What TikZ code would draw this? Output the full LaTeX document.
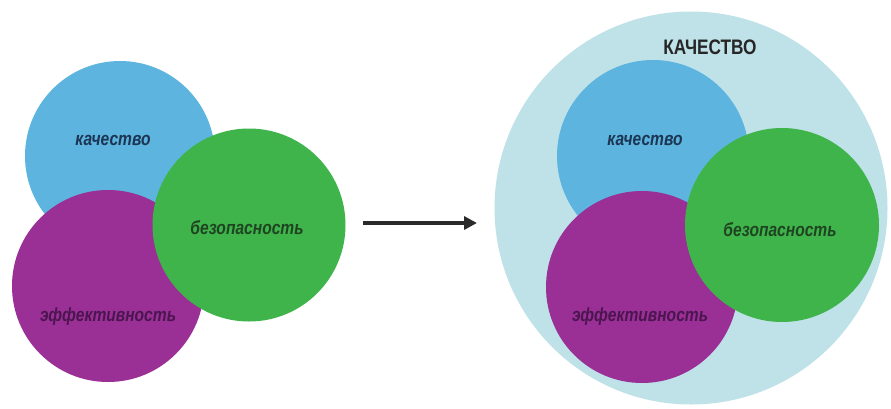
\documentclass[tikz,border=0pt]{standalone}
\usepackage{fontspec}
\setmainfont{Liberation Sans}
\newfontfamily\condfont[FakeStretch=0.82]{Liberation Sans}
\usetikzlibrary{arrows.meta}
\definecolor{cBlue}{HTML}{5CB4DF}
\definecolor{cPurple}{HTML}{9A2F95}
\definecolor{cGreen}{HTML}{3FB44B}
\definecolor{cBig}{HTML}{BFE2E9}
\definecolor{tBlue}{HTML}{1C3553}
\definecolor{tGreen}{HTML}{1F4421}
\definecolor{tPurple}{HTML}{4B1650}
\definecolor{cArrow}{HTML}{2A2A2A}
\tikzset{
  disc/.style={circle, inner sep=0pt, draw=none, minimum size=#1},
  lbl/.style={inner sep=0pt, font=\condfont\fontsize{19}{19}\selectfont\bfseries\itshape},
  bigl/.style={inner sep=0pt, font=\condfont\fontsize{21}{21}\selectfont\bfseries}
}
\begin{document}
\begin{tikzpicture}[x=1pt,y=-1pt]
\useasboundingbox (0,0) rectangle (891,408);
% left group
\node[disc=190pt, fill=cBlue] (lb) at (120,156) {};
\node[disc=192pt, fill=cPurple] (lp) at (108,286) {};
\node[disc=193pt, fill=cGreen] (lg) at (249,225) {};
\node[lbl, text=tBlue] (lbt) at (113,140) {качество};
\node[lbl, text=tGreen] (lgt) at (247,228) {безопасность};
\node[lbl, text=tPurple] (lpt) at (108,317) {эффективность};
% arrow
\coordinate (a1) at (363,223);
\coordinate (a2) at (477,223);
\draw[cArrow, line width=3.5pt, -{Triangle[length=13pt,width=13pt]}] (a1) -- (a2);
% right group
\node[disc=393pt, fill=cBig] (big) at (691,208) {};
\node[bigl, text=black!85] (bigt) at (710,47) {КАЧЕСТВО};
\node[disc=192pt, fill=cBlue] (rb) at (653,156) {};
\node[disc=192pt, fill=cPurple] (rp) at (642,287) {};
\node[disc=194pt, fill=cGreen] (rg) at (782,225) {};
\node[lbl, text=tBlue] (rbt) at (645,140) {качество};
\node[lbl, text=tGreen] (rgt) at (780,230) {безопасность};
\node[lbl, text=tPurple] (rpt) at (640,317) {эффективность};
\end{tikzpicture}
\end{document}
